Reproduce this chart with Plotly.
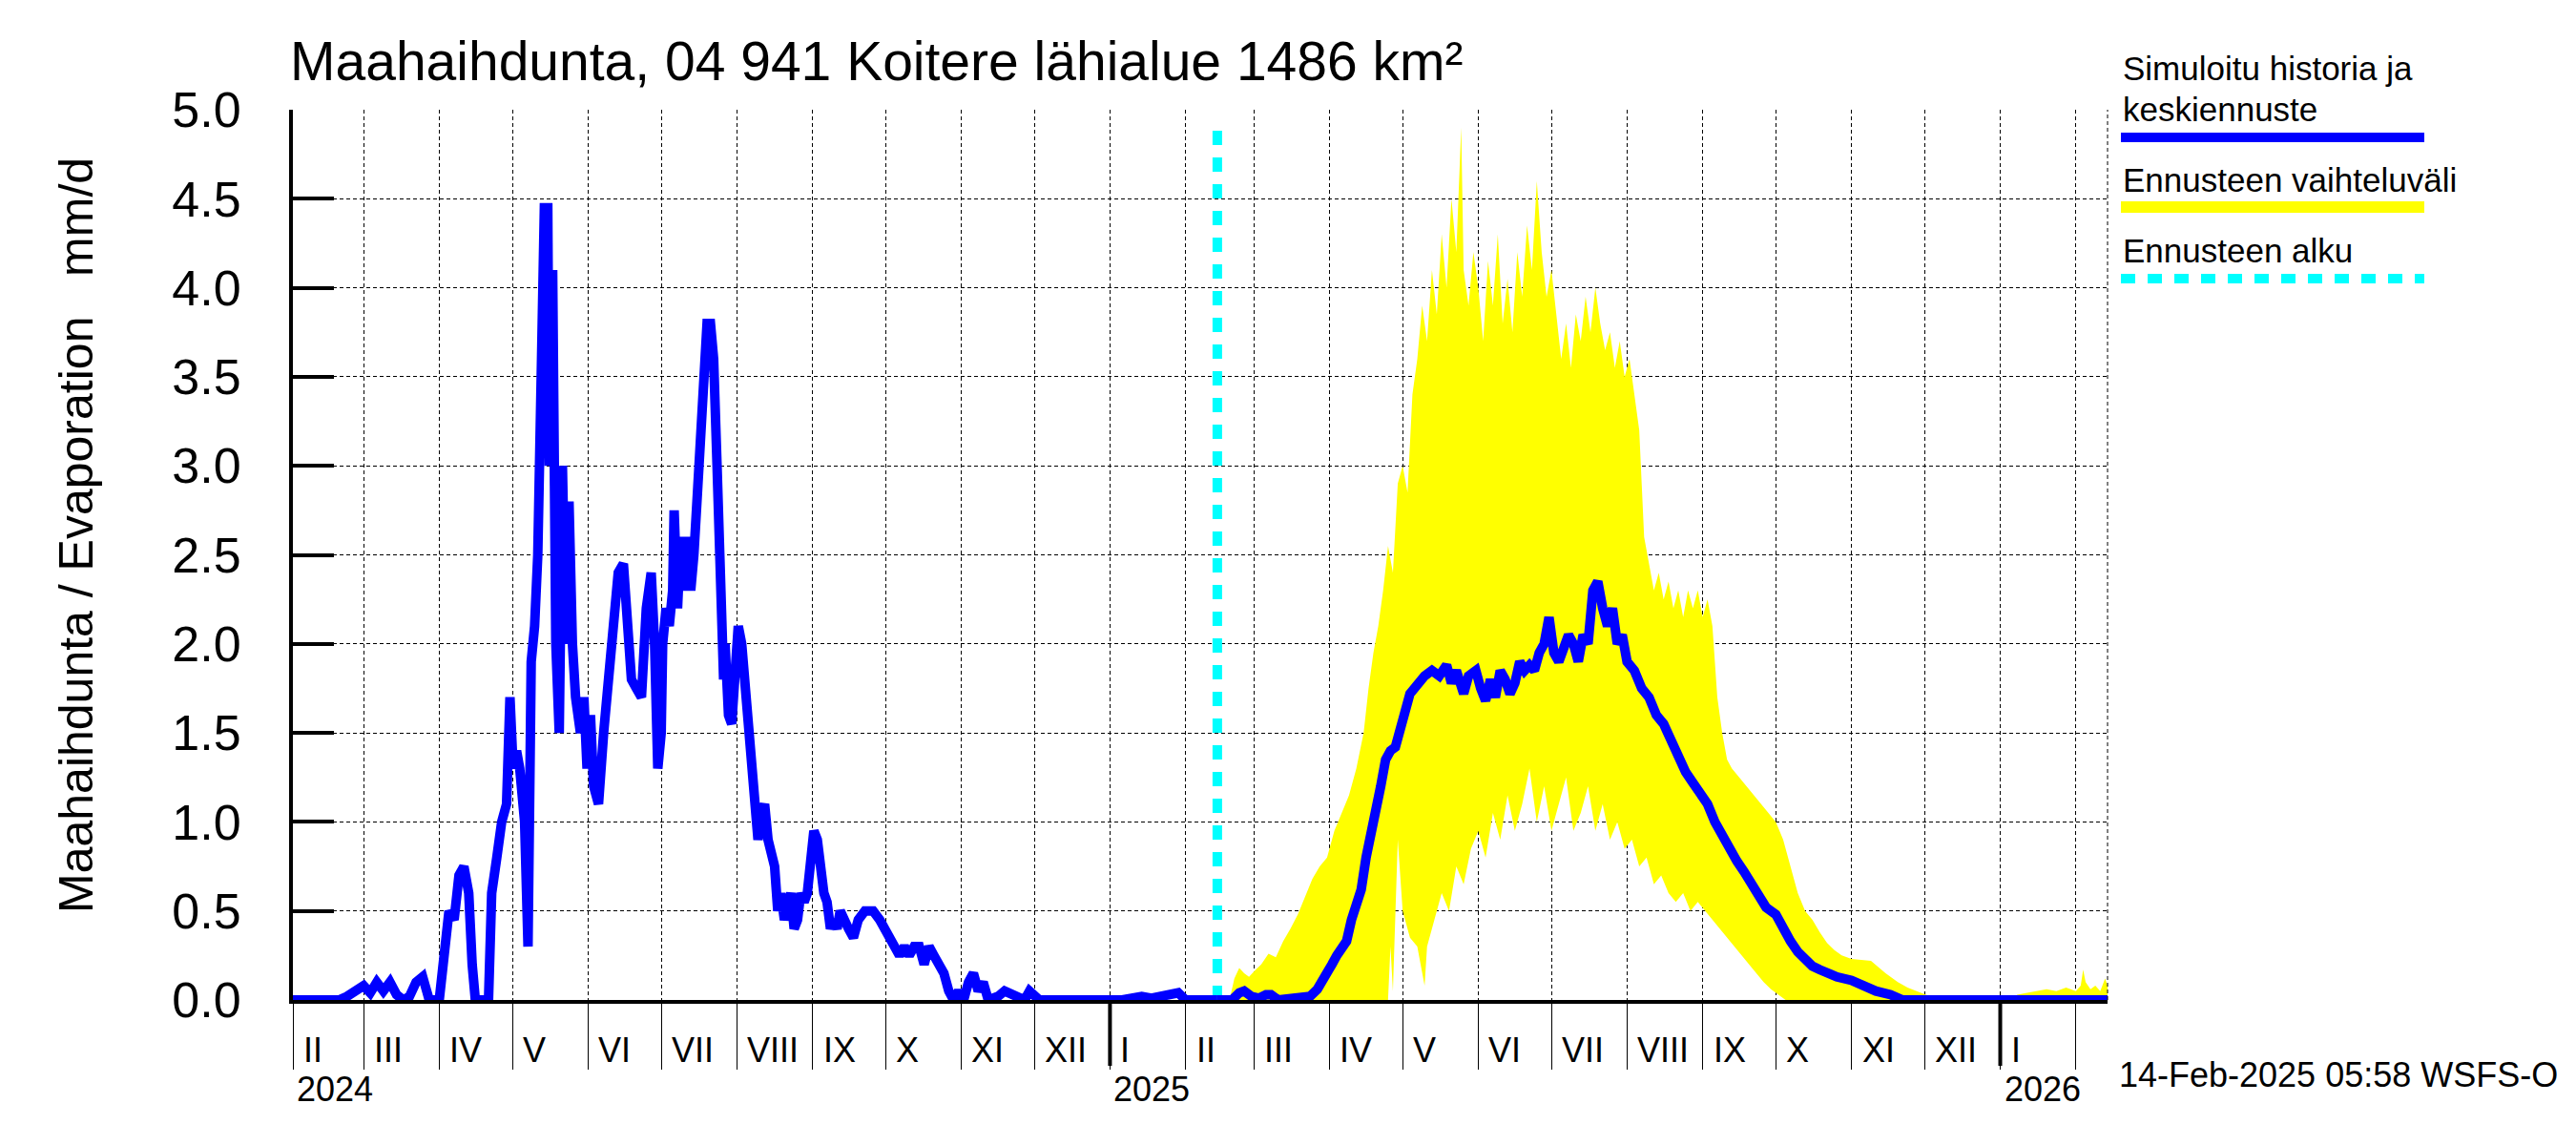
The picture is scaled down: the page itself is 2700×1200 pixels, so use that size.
import plotly.graph_objects as go
import pandas as pd

# ---------------- data ----------------
series_start = "2024-02-01"
# simulated history: day offset from series_start, value (mm/d)
hist_day = [
    0, 18.9, 22.2, 25.6, 29.0, 31.7, 34.4, 37.1, 39.8, 42.5, 45.2, 47.8, 50.5, 53.2, 55.9,
    60.0, 62.0, 64.0, 66.1, 68.1, 70.1, 72.1, 73.5, 74.8, 80.2, 81.5, 83.6, 85.6, 87.6, 89.0,
    90.3, 91.7, 93.0, 95.0, 96.4, 97.7, 99.1, 100.4, 101.8, 103.1, 104.5, 105.1, 106.5, 107.8,
    109.2, 110.5, 111.9, 113.2, 114.6, 115.9, 117.9, 119.3, 120.6, 122.0, 123.3, 125.3, 127.4,
    129.4, 131.4, 133.4, 135.5, 136.8, 138.8, 140.8, 142.9, 144.9, 146.9, 148.3, 149.6, 151.0,
    151.6, 153.0, 154.3, 155.7, 156.3, 157.7, 159.0, 160.4, 161.7, 163.1, 164.4, 166.5, 168.5,
    169.8, 171.2, 172.5, 173.9, 175.2, 176.6, 177.2, 178.6, 179.9, 181.3, 182.6, 184.0, 185.3,
    186.7, 188.0, 189.4, 190.7, 192.1, 193.4, 194.8, 196.1, 197.5, 198.8, 200.1, 201.5, 202.8,
    204.2, 205.5, 206.9, 208.2, 209.6, 210.9, 212.3, 213.6, 215.0, 216.3, 217.7, 219.0, 220.4,
    221.7, 223.1, 224.4, 225.8, 227.8, 229.8, 231.8, 234.5, 237.9, 240.6, 242.6, 244.6, 246.6,
    248.7, 250.7, 252.7, 254.7, 256.8, 258.8, 260.8, 262.8, 264.8, 266.9, 268.9, 270.9, 272.9,
    275.0, 277.0, 279.0, 281.0, 283.0, 285.1, 289.1, 291.8, 295.2, 298.5, 300, 302, 304, 306,
    340, 348, 352, 360, 363, 366, 379,
]
hist_vals = [
    0.0, 0.0, 0.02, 0.05, 0.08, 0.04, 0.10, 0.05, 0.10, 0.03, 0.0, 0.02, 0.10, 0.13, 0.0,
    0.0, 0.30, 0.50, 0.45, 0.70, 0.75, 0.60, 0.20, 0.0, 0.0, 0.60, 0.80, 1.00, 1.10, 1.70,
    1.30, 1.40, 1.30, 1.00, 0.30, 1.90, 2.10, 2.50, 3.50, 4.45, 4.45, 3.00, 4.10, 2.00,
    1.50, 3.00, 2.00, 2.80, 2.00, 1.70, 1.50, 1.70, 1.30, 1.60, 1.20, 1.10, 1.50,
    1.80, 2.10, 2.40, 2.45, 2.20, 1.80, 1.75, 1.70, 2.20, 2.40, 2.00, 1.30, 1.50,
    2.00, 2.20, 2.10, 2.30, 2.75, 2.20, 2.60, 2.30, 2.60, 2.30, 2.50, 3.00, 3.50,
    3.80, 3.80, 3.60, 3.00, 2.20, 1.80, 2.00, 1.60, 1.55, 1.80, 2.10, 2.00, 1.80,
    1.60, 1.30, 1.10, 0.90, 1.05, 1.10, 0.90, 0.80, 0.75, 0.50, 0.60, 0.45, 0.55,
    0.60, 0.40, 0.45, 0.60, 0.55, 0.60, 0.75, 0.95, 0.90, 0.70, 0.60, 0.55, 0.40,
    0.45, 0.40, 0.50, 0.45, 0.40, 0.35, 0.45, 0.50, 0.50, 0.45, 0.40, 0.35, 0.30,
    0.25, 0.30, 0.25, 0.30, 0.30, 0.20, 0.30, 0.25, 0.20, 0.15, 0.05, 0.0, 0.05,
    0.0, 0.10, 0.15, 0.05, 0.10, 0.0, 0.02, 0.05, 0.03, 0.0, 0.0, 0.05, 0.03, 0.0,
    0.0, 0.02, 0.01, 0.03, 0.04, 0.0, 0.0,
]

# median forecast
fc_dates = [
    "2025-02-14", "2025-02-20", "2025-02-23", "2025-02-25", "2025-02-28", "2025-03-03", "2025-03-06",
    "2025-03-08", "2025-03-11", "2025-03-16", "2025-03-20", "2025-03-24", "2025-03-27", "2025-03-30",
    "2025-04-02", "2025-04-04", "2025-04-06", "2025-04-08", "2025-04-10", "2025-04-12", "2025-04-14",
    "2025-04-16", "2025-04-18", "2025-04-20", "2025-04-22", "2025-04-24", "2025-04-26", "2025-04-28",
    "2025-04-30", "2025-05-02", "2025-05-04", "2025-05-07", "2025-05-10", "2025-05-13", "2025-05-16",
    "2025-05-19", "2025-05-21", "2025-05-23", "2025-05-26", "2025-05-28", "2025-05-31", "2025-06-02",
    "2025-06-04", "2025-06-06", "2025-06-08", "2025-06-10", "2025-06-12", "2025-06-14", "2025-06-16",
    "2025-06-18", "2025-06-20", "2025-06-22", "2025-06-24", "2025-06-26", "2025-06-28", "2025-06-30",
    "2025-07-02", "2025-07-04", "2025-07-06", "2025-07-08", "2025-07-10", "2025-07-12", "2025-07-14",
    "2025-07-16", "2025-07-18", "2025-07-20", "2025-07-22", "2025-07-24", "2025-07-26", "2025-07-28",
    "2025-07-30", "2025-08-01", "2025-08-04", "2025-08-07", "2025-08-10", "2025-08-13", "2025-08-16",
    "2025-08-19", "2025-08-22", "2025-08-25", "2025-08-28", "2025-08-31", "2025-09-03", "2025-09-06",
    "2025-09-09", "2025-09-12", "2025-09-15", "2025-09-18", "2025-09-21", "2025-09-24", "2025-09-27",
    "2025-10-01", "2025-10-04", "2025-10-07", "2025-10-10", "2025-10-13", "2025-10-16", "2025-10-19",
    "2025-10-22", "2025-10-26", "2025-11-01", "2025-11-06", "2025-11-11", "2025-11-17", "2025-11-22",
    "2026-02-14",
]
fc_vals = [
    0.0, 0.0, 0.04, 0.05, 0.02, 0.01, 0.03,
    0.03, 0.0, 0.01, 0.01, 0.02, 0.06, 0.12,
    0.20, 0.25, 0.30, 0.33, 0.45, 0.55, 0.62,
    0.80, 0.92, 1.05, 1.20, 1.35, 1.40, 1.42,
    1.50, 1.62, 1.72, 1.78, 1.82, 1.85, 1.82,
    1.88, 1.78, 1.85, 1.72, 1.82, 1.85, 1.75,
    1.68, 1.80, 1.70, 1.85, 1.80, 1.72, 1.78,
    1.90, 1.85, 1.88, 1.85, 1.95, 2.00, 2.15,
    1.95, 1.90, 2.00, 2.05, 2.00, 1.90, 2.05,
    2.00, 2.30, 2.35, 2.20, 2.10, 2.20, 2.00,
    2.05, 1.90, 1.85, 1.75, 1.70, 1.60, 1.55,
    1.45, 1.35, 1.28, 1.22, 1.15, 1.10, 1.00,
    0.92, 0.85, 0.78, 0.72, 0.65, 0.60, 0.52,
    0.48, 0.40, 0.33, 0.27, 0.22, 0.19, 0.17,
    0.15, 0.13, 0.11, 0.08, 0.05, 0.03, 0.0,
    0.0,
]

# forecast range: upper edge
band_hi_dates = [
    "2025-02-14", "2025-02-19", "2025-02-21", "2025-02-23", "2025-02-25", "2025-02-27", "2025-03-01",
    "2025-03-04", "2025-03-07", "2025-03-10", "2025-03-13", "2025-03-16", "2025-03-19", "2025-03-22",
    "2025-03-25", "2025-03-28", "2025-03-31", "2025-04-03", "2025-04-06", "2025-04-09", "2025-04-12",
    "2025-04-15", "2025-04-17", "2025-04-19", "2025-04-21", "2025-04-23", "2025-04-25", "2025-04-27",
    "2025-04-29", "2025-05-01", "2025-05-03", "2025-05-05", "2025-05-07", "2025-05-09", "2025-05-11",
    "2025-05-13", "2025-05-15", "2025-05-17", "2025-05-19", "2025-05-21", "2025-05-23", "2025-05-25",
    "2025-05-26", "2025-05-28", "2025-05-30", "2025-06-01", "2025-06-03", "2025-06-05", "2025-06-07",
    "2025-06-09", "2025-06-11", "2025-06-13", "2025-06-15", "2025-06-17", "2025-06-19", "2025-06-21",
    "2025-06-23", "2025-06-25", "2025-06-27", "2025-06-29", "2025-07-01", "2025-07-03", "2025-07-05",
    "2025-07-07", "2025-07-09", "2025-07-11", "2025-07-13", "2025-07-15", "2025-07-17", "2025-07-19",
    "2025-07-21", "2025-07-23", "2025-07-25", "2025-07-27", "2025-07-29", "2025-07-31", "2025-08-02",
    "2025-08-04", "2025-08-06", "2025-08-08", "2025-08-10", "2025-08-12", "2025-08-14", "2025-08-16",
    "2025-08-18", "2025-08-20", "2025-08-22", "2025-08-24", "2025-08-26", "2025-08-28", "2025-08-30",
    "2025-09-01", "2025-09-03", "2025-09-05", "2025-09-07", "2025-09-09", "2025-09-11", "2025-09-13",
    "2025-09-16", "2025-09-19", "2025-09-22", "2025-09-25", "2025-09-28", "2025-10-01", "2025-10-04",
    "2025-10-07", "2025-10-10", "2025-10-13", "2025-10-16", "2025-10-19", "2025-10-22", "2025-10-25",
    "2025-10-28", "2025-11-01", "2025-11-09", "2025-11-15", "2025-11-20", "2025-11-24", "2025-12-01",
    "2025-12-07", "2026-01-05", "2026-01-08", "2026-01-12", "2026-01-16", "2026-01-20", "2026-01-24",
    "2026-01-28", "2026-02-01", "2026-02-03", "2026-02-04", "2026-02-05", "2026-02-07", "2026-02-09",
    "2026-02-11", "2026-02-13", "2026-02-14",
]
band_hi = [
    0.0, 0.0, 0.12, 0.18, 0.15, 0.13, 0.16,
    0.20, 0.26, 0.24, 0.33, 0.40, 0.48, 0.58,
    0.68, 0.75, 0.80, 0.95, 1.05, 1.15, 1.30,
    1.50, 1.75, 1.95, 2.10, 2.30, 2.55, 2.40,
    2.90, 3.00, 2.85, 3.40, 3.60, 3.90, 3.70,
    4.10, 3.85, 4.30, 4.00, 4.50, 4.20, 4.90,
    4.10, 3.90, 4.20, 4.00, 3.70, 4.15, 3.90,
    4.30, 3.80, 4.05, 3.75, 4.20, 3.95, 4.35,
    4.10, 4.60, 4.20, 3.95, 4.10, 3.85, 3.60,
    3.80, 3.55, 3.85, 3.70, 3.95, 3.75, 4.00,
    3.80, 3.65, 3.75, 3.55, 3.70, 3.50, 3.60,
    3.40, 3.20, 2.60, 2.45, 2.30, 2.40, 2.25,
    2.35, 2.20, 2.30, 2.15, 2.30, 2.20, 2.30,
    2.15, 2.25, 2.10, 1.70, 1.50, 1.35, 1.30,
    1.25, 1.20, 1.15, 1.10, 1.05, 1.00, 0.90,
    0.75, 0.60, 0.50, 0.45, 0.38, 0.32, 0.28,
    0.25, 0.23, 0.22, 0.15, 0.10, 0.07, 0.03,
    0.0, 0.0, 0.03, 0.04, 0.05, 0.06, 0.05,
    0.07, 0.05, 0.08, 0.17, 0.10, 0.06, 0.08,
    0.05, 0.12, 0.08,
]

# forecast range: lower edge
band_lo_dates = [
    "2025-02-14", "2025-04-25", "2025-04-26", "2025-04-27", "2025-04-29", "2025-05-01", "2025-05-04",
    "2025-05-07", "2025-05-09", "2025-05-10", "2025-05-11", "2025-05-14", "2025-05-17", "2025-05-20",
    "2025-05-23", "2025-05-26", "2025-05-29", "2025-06-01", "2025-06-04", "2025-06-07", "2025-06-10",
    "2025-06-13", "2025-06-16", "2025-06-19", "2025-06-22", "2025-06-25", "2025-06-28", "2025-07-01",
    "2025-07-04", "2025-07-07", "2025-07-10", "2025-07-13", "2025-07-16", "2025-07-19", "2025-07-22",
    "2025-07-25", "2025-07-28", "2025-07-31", "2025-08-03", "2025-08-06", "2025-08-09", "2025-08-12",
    "2025-08-15", "2025-08-18", "2025-08-21", "2025-08-24", "2025-08-27", "2025-08-30", "2025-09-02",
    "2025-09-05", "2025-09-08", "2025-09-11", "2025-09-14", "2025-09-17", "2025-09-20", "2025-09-23",
    "2025-09-26", "2025-09-29", "2025-10-02", "2025-10-05", "2026-02-14",
]
band_lo = [
    0.0, 0.0, 0.30, 0.05, 0.90, 0.50, 0.35,
    0.30, 0.15, 0.08, 0.30, 0.45, 0.60, 0.50,
    0.75, 0.65, 0.85, 0.95, 0.80, 1.05, 0.90,
    1.15, 0.95, 1.10, 1.30, 1.00, 1.20, 0.95,
    1.10, 1.25, 0.95, 1.05, 1.20, 0.95, 1.10,
    0.90, 1.00, 0.85, 0.90, 0.75, 0.80, 0.65,
    0.70, 0.60, 0.55, 0.60, 0.50, 0.55, 0.50,
    0.45, 0.40, 0.35, 0.30, 0.25, 0.20, 0.15,
    0.10, 0.06, 0.03, 0.0, 0.0,
]

forecast_start = "2025-02-14"
x_start, x_end = "2024-02-01", "2026-02-14"
month_names = ["I", "II", "III", "IV", "V", "VI", "VII", "VIII", "IX", "X", "XI", "XII"]

title_text = "Maahaihdunta, 04 941 Koitere lähialue 1486 km²"
y_title = "Maahaihdunta / Evaporation   mm/d"
legend_labels = ["Simuloitu historia ja", "keskiennuste", "Ennusteen vaihteluväli", "Ennusteen alku"]
footer = "14-Feb-2025 05:58 WSFS-O"

# ---------------- layout geometry (pixels) ----------------
W, H = 2700, 1200
L, R, T, B = 299, 2201, 107, 1040
FONT = "Liberation Sans, Arial, Helvetica, sans-serif"


def px_x(px):
    return (px - L) / (R - L)


def px_y(py):
    return (B - py) / (B - T)


hist_x = pd.Timestamp(series_start) + pd.to_timedelta(hist_day, unit="D")

fig = go.Figure()

# forecast range band (polygon: upper edge forward, lower edge back)
poly_x = list(pd.to_datetime(band_hi_dates)) + list(pd.to_datetime(band_lo_dates))[::-1]
poly_y = band_hi + band_lo[::-1]
fig.add_trace(go.Scatter(x=poly_x, y=poly_y, mode="lines", line=dict(width=0, color="#FFFF00"),
                         fill="toself", fillcolor="#FFFF00", showlegend=False, hoverinfo="skip"))

# forecast start marker
fig.add_trace(go.Scatter(x=[forecast_start, forecast_start], y=[0, 4.93], mode="lines",
                         line=dict(color="#00FFFF", width=10, dash="15px,13px"), showlegend=False))

# simulated history + median forecast
fig.add_trace(go.Scatter(x=hist_x, y=hist_vals, mode="lines", line=dict(color="#0000FF", width=10),
                         showlegend=False))
fig.add_trace(go.Scatter(x=fc_dates, y=fc_vals, mode="lines", line=dict(color="#0000FF", width=10),
                         showlegend=False))

# month labels
month_starts = pd.date_range("2024-02-01", "2026-02-01", freq="MS")
annotations = []
for ms in month_starts[:-1]:
    annotations.append(dict(x=ms, y=0, xref="x", yref="paper", text=month_names[ms.month - 1],
                            showarrow=False, xanchor="left", yanchor="middle", xshift=9, yshift=-52,
                            font=dict(size=36, family=FONT, color="black")))

year_starts = [d for d in month_starts if d.month == 1]
year_label_pos = [pd.Timestamp(x_start)] + year_starts
for d in year_label_pos:
    annotations.append(dict(x=d, y=0, xref="x", yref="paper", text=str(d.year), showarrow=False,
                            xanchor="left", yanchor="middle", yshift=-93, xshift=2,
                            font=dict(size=36, family=FONT, color="black")))

shapes = []
for d in year_starts:
    shapes.append(dict(type="line", xref="x", yref="paper", x0=d, x1=d, y0=0, y1=-69 / (B - T),
                       line=dict(color="black", width=4)))
# right border dashed
shapes.append(dict(type="line", xref="paper", yref="paper", x0=1, x1=1, y0=0, y1=1,
                   line=dict(color="black", width=1, dash="4px,3px")))

# title
annotations.append(dict(x=px_x(294), y=px_y(76 - 0.35 * 57), xref="paper", yref="paper", text=title_text,
                        showarrow=False, xanchor="left", yanchor="middle",
                        font=dict(size=57, family=FONT, color="black")))
# y title
annotations.append(dict(x=px_x(72), y=px_y(553), xref="paper", yref="paper", text=y_title,
                        showarrow=False, textangle=-90, xanchor="center", yanchor="middle",
                        font=dict(size=50, family=FONT, color="black")))
# legend
LS = 35
LX0, LX1 = 2215, 2533
leg_base = [76, 119, 193, 267]
for txt, base in zip(legend_labels, leg_base):
    annotations.append(dict(x=px_x(LX0), y=px_y(base - 0.35 * LS), xref="paper", yref="paper", text=txt,
                            showarrow=False, xanchor="left", yanchor="middle",
                            font=dict(size=LS, family=FONT, color="black")))
shapes.append(dict(type="line", xref="paper", yref="paper", x0=px_x(LX0), x1=px_x(LX1),
                   y0=px_y(136), y1=px_y(136), line=dict(color="#0000FF", width=10)))
shapes.append(dict(type="line", xref="paper", yref="paper", x0=px_x(LX0), x1=px_x(LX1),
                   y0=px_y(209), y1=px_y(209), line=dict(color="#FFFF00", width=12)))
shapes.append(dict(type="line", xref="paper", yref="paper", x0=px_x(LX0), x1=px_x(LX1),
                   y0=px_y(284), y1=px_y(284), line=dict(color="#00FFFF", width=10, dash="15px,13px")))
# footer
annotations.append(dict(x=px_x(2675), y=px_y(1131 - 0.35 * 36), xref="paper", yref="paper", text=footer,
                        showarrow=False, xanchor="right", yanchor="middle",
                        font=dict(size=36, family=FONT, color="black")))

fig.update_layout(
    width=W, height=H,
    margin=dict(l=L, r=W - R, t=T, b=H - B, pad=0),
    paper_bgcolor="white", plot_bgcolor="white",
    showlegend=False,
    font=dict(family=FONT, color="black"),
    xaxis=dict(type="date", range=[x_start, x_end], tickmode="array", tickvals=list(month_starts),
               showticklabels=False, ticks="outside", ticklen=69, tickwidth=1, tickcolor="black",
               showgrid=True, gridcolor="black", gridwidth=1, griddash="4px,3px",
               showline=True, linecolor="black", linewidth=4, zeroline=False),
    yaxis=dict(range=[0, 5], tickmode="linear", tick0=0, dtick=0.5, tickformat=".1f",
               ticks="inside", ticklen=43, tickwidth=4, tickcolor="black",
               tickfont=dict(size=52, family=FONT, color="black"), ticklabelstandoff=40,
               showgrid=True, gridcolor="black", gridwidth=1, griddash="4px,3px",
               showline=True, linecolor="black", linewidth=4, zeroline=False),
    annotations=annotations,
    shapes=shapes,
)

fig.write_html("out.html")
